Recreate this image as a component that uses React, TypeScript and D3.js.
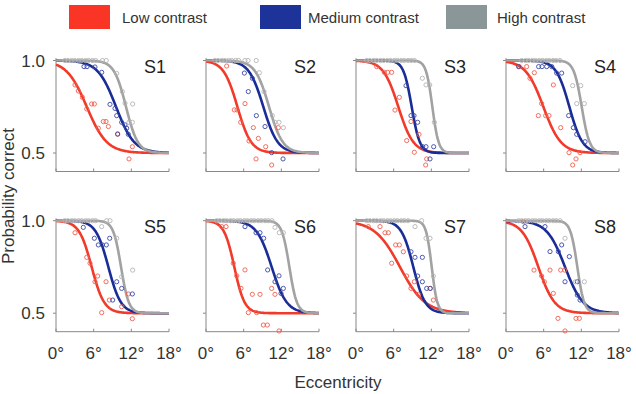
import React from 'react';
import * as d3 from 'd3';

const subjects = ['S1', 'S2', 'S3', 'S4', 'S5', 'S6', 'S7', 'S8'];
const conditions = ['Low contrast', 'Medium contrast', 'High contrast'];
const xTicks = [0, 6, 12, 18];
const yTicks = [0.5, 1.0];

// fitted psychometric functions: threshold (deg, p = 0.75) and spread (deg)
const lowThreshold = [4.9, 5.0, 6.74, 5.95, 5.68, 4.51, 7.0, 5.15];
const lowSpread = [1.6, 1.1, 1.2, 1.4, 1.0, 0.82, 2.0, 1.3];
const medThreshold = [9.56, 9.13, 8.87, 10.09, 8.34, 10.46, 9.13, 9.4];
const medSpread = [1.45, 1.15, 0.65, 1.05, 1.0, 1.2, 0.95, 1.45];
const highThreshold = [11.15, 10.04, 12.16, 12.06, 10.36, 13.28, 12.06, 11.36];
const highSpread = [0.95, 1.1, 0.5, 0.63, 0.62, 0.6, 0.45, 0.55];

// observed data: [eccentricity (deg), proportion correct]
const lowPoints: number[][][] = [
  [[3.03, 0.868], [3.56, 0.835], [4.2, 0.801], [4.89, 0.738], [5.68, 0.765], [6.11, 0.765], [6.74, 0.634], [7.54, 0.67], [7.97, 0.67], [8.34, 0.643], [9.82, 0.601], [12.16, 0.534], [11.63, 0.468]],
  [[3.29, 0.97], [4.51, 0.733], [4.94, 0.733], [6.21, 0.767], [5.52, 0.666], [7.54, 0.637], [6.85, 0.565], [8.34, 0.579], [9.51, 0.534], [7.97, 0.468], [10.46, 0.435], [11.52, 0.637]],
  [[3.29, 0.967], [4.51, 0.936], [5.05, 0.936], [5.68, 0.936], [6.9, 0.801], [6.21, 0.732], [8.76, 0.67], [10.04, 0.601], [8.07, 0.567], [9.29, 0.504], [11.26, 0.468], [11.1, 0.435]],
  [[2.12, 0.967], [3.29, 0.967], [4.51, 0.934], [3.82, 0.904], [7.54, 0.868], [5.68, 0.767], [5.15, 0.702], [6.32, 0.702], [6.85, 0.702], [8.71, 0.637], [10.04, 0.502], [11.79, 0.502], [11.15, 0.468], [10.62, 0.435]],
  [[3.03, 0.935], [4.89, 0.802], [5.42, 0.77], [6.64, 0.701], [6.21, 0.67], [7.97, 0.67], [8.5, 0.571], [10.46, 0.535], [11.52, 0.604], [7.28, 0.503], [12.16, 0.47]],
  [[2.5, 0.968], [3.19, 0.968], [4.35, 0.77], [6.21, 0.734], [4.89, 0.702], [5.58, 0.634], [7.38, 0.602], [8.6, 0.602], [10.46, 0.634], [10.99, 0.602], [6.74, 0.503], [8.07, 0.503], [9.13, 0.436], [9.77, 0.436], [11.63, 0.404]],
  [[1.96, 0.968], [3.82, 0.968], [4.62, 0.935], [5.15, 0.935], [6.32, 0.869], [6.9, 0.869], [7.54, 0.832], [5.68, 0.77], [8.07, 0.701], [9.29, 0.67], [8.76, 0.634], [9.93, 0.602], [11.79, 0.634], [12.32, 0.571]],
  [[2.76, 0.995], [4.46, 0.733], [5.68, 0.701], [6.11, 0.67], [7.01, 0.733], [8.71, 0.733], [9.35, 0.733], [7.54, 0.607], [8.28, 0.472], [11.15, 0.472], [11.68, 0.472], [9.4, 0.404]],
];
const medPoints: number[][][] = [
  [[4.46, 0.967], [4.94, 0.967], [6.21, 0.965], [7.28, 0.936], [8.6, 0.763], [9.4, 0.741], [9.67, 0.702], [10.46, 0.666], [10.99, 0.652], [11.26, 0.634], [9.82, 0.603], [11.52, 0.601]],
  [[6.11, 0.932], [7.38, 0.904], [6.74, 0.832], [8.02, 0.702], [9.4, 0.643], [10.46, 0.502], [12.27, 0.468]],
  [[7.97, 0.864], [8.76, 0.702], [9.24, 0.702], [9.82, 0.666], [10.62, 0.534], [11.15, 0.534], [12.37, 0.534], [11.79, 0.468]],
  [[2.0, 0.967], [5.2, 0.967], [5.74, 0.967], [6.48, 0.967], [7.28, 0.967], [8.07, 0.932], [8.87, 0.932], [9.98, 0.702], [10.73, 0.637], [11.26, 0.601], [12.59, 0.561]],
  [[4.35, 0.964], [6.11, 0.905], [6.74, 0.869], [7.38, 0.869], [8.02, 0.869], [8.55, 0.905], [9.67, 0.67], [10.46, 0.634], [9.03, 0.571], [12.16, 0.604]],
  [[6.21, 0.968], [7.97, 0.935], [8.6, 0.935], [9.19, 0.905], [9.82, 0.734], [11.63, 0.702], [10.99, 0.67], [12.32, 0.634], [11.95, 0.607]],
  [[8.76, 0.832], [9.4, 0.802], [10.57, 0.802], [9.82, 0.701], [10.57, 0.67], [11.26, 0.634], [11.84, 0.634]],
  [[3.03, 0.968], [6.21, 0.968], [8.87, 0.869], [7.01, 0.833], [8.34, 0.833], [10.09, 0.806], [9.4, 0.67], [11.36, 0.67], [11.36, 0.598], [11.79, 0.571]],
];
const highPoints: number[][][] = [
  [[1.4, 1], [1.9, 1], [2.5, 1], [3.0, 1], [3.6, 1], [4.1, 1], [4.7, 1], [5.2, 1], [5.8, 1], [6.3, 1], [7.4, 1], [8.0, 1], [9.67, 0.93], [10.57, 0.832], [10.99, 0.769], [12.21, 0.765], [11.63, 0.666], [12.16, 0.666]],
  [[1.4, 1], [1.9, 1], [2.5, 1], [3.0, 1], [3.6, 1], [4.1, 1], [4.7, 1], [5.2, 1], [6.2, 1], [6.7, 1], [8.0, 1], [8.5, 0.934], [9.24, 0.832], [10.57, 0.702], [10.99, 0.666], [11.63, 0.666], [12.32, 0.637]],
  [[1.7, 1], [2.2, 1], [2.8, 1], [3.3, 1], [3.9, 1], [4.4, 1], [5.0, 1], [5.5, 1], [6.1, 1], [6.6, 1], [7.2, 1], [7.7, 1], [8.3, 1], [8.8, 1], [9.3, 1], [10.57, 0.904], [11.15, 0.868], [11.74, 0.868], [12.48, 0.666]],
  [[2.5, 1], [3.1, 1], [3.6, 1], [4.2, 1], [4.7, 1], [5.3, 1], [5.8, 1], [6.4, 1], [6.9, 1], [7.5, 1], [8.0, 1], [8.6, 1], [10.62, 0.864], [11.9, 0.864], [11.26, 0.767], [12.48, 0.767]],
  [[1.4, 1], [1.9, 1], [2.5, 1], [3.0, 1], [3.6, 1], [4.1, 1], [4.7, 1], [5.2, 1], [5.8, 1], [6.3, 1], [8.07, 1], [8.6, 1], [7.28, 0.968], [9.67, 0.905], [10.46, 0.697], [12.21, 0.733]],
  [[1.7, 1], [2.2, 1], [2.8, 1], [3.3, 1], [3.9, 1], [4.4, 1], [5.0, 1], [5.5, 1], [6.1, 1], [6.6, 1], [7.2, 1], [7.7, 1], [8.3, 1], [8.8, 1], [9.4, 1], [9.9, 1], [10.5, 1], [10.99, 0.964], [11.68, 0.935], [12.32, 0.935]],
  [[1.7, 1], [2.2, 1], [2.8, 1], [3.3, 1], [3.9, 1], [4.4, 1], [5.0, 1], [5.5, 1], [6.1, 1], [6.6, 1], [7.2, 1], [7.7, 1], [8.3, 1], [10.46, 1], [9.4, 0.968], [11.15, 0.905], [11.79, 0.905], [12.32, 0.701]],
  [[2.0, 1], [2.5, 1], [3.1, 1], [3.6, 1], [4.2, 1], [4.7, 1], [5.3, 1], [5.8, 1], [6.4, 1], [6.9, 1], [7.5, 1], [8.0, 1], [8.6, 1], [9.4, 0.905], [11.05, 0.67], [12.48, 0.67]],
];

const lineColors = ['#f23a2a', '#1a2d96', '#a2a2a2'];
const pointColors = ['#f0604f', '#3a48a8', '#b4b4b4'];
const legendColors = ['#fa3525', '#1d3399', '#8a9698'];

const FONT = "'Liberation Sans', Arial, Helvetica, sans-serif";

function psychometric(x: number, t: number, s: number) {
  return 0.5 + 0.5 / (1 + Math.exp((x - t) / s));
}

export default function App() {
  const W = 636;
  const H = 394;
  const panelLeft = 56;
  const panelStep = 150;
  const panelW = 113;
  const rowTop = [60.5, 220.7];
  const rowH = 111;
  const grid = d3.range(0, 18.0001, 0.1);

  const thresholds = [lowThreshold, medThreshold, highThreshold];
  const spreads = [lowSpread, medSpread, highSpread];
  const points = [lowPoints, medPoints, highPoints];

  const legendX = [69, 260, 446];
  const legendTextX = [122, 308, 497];

  return (
    <svg width={W} height={H} style={{ position: 'absolute', left: 0, top: 0, background: '#fff' }} fontFamily={FONT}>
      <rect x={0} y={0} width={W} height={H} fill="#fff" />
      {conditions.map((c, i) => (
        <g key={c}>
          <rect x={legendX[i]} y={5} width={41} height={24} fill={legendColors[i]} />
          <text x={legendTextX[i]} y={23} fontSize={15} fill="#333">{c}</text>
        </g>
      ))}
      <text transform={`translate(14,196) rotate(-90)`} textAnchor="middle" fontSize={17} fill="#333">Probability correct</text>
      <text x={338} y={388} textAnchor="middle" fontSize={17} fill="#333">Eccentricity</text>
      {subjects.map((s, k) => {
        const col = k % 4;
        const row = Math.floor(k / 4);
        const x0 = panelLeft + panelStep * col;
        const x = d3.scaleLinear().domain([0, 18]).range([x0, x0 + panelW]);
        const y = d3.scaleLinear().domain([0.4, 1.0]).range([rowTop[row] + rowH, rowTop[row]]);
        const line = d3.line<number>().x((d) => x(d));
        return (
          <g key={s}>
            {/* axes */}
            <line x1={x0} x2={x0} y1={y(1.013)} y2={y(0.4)} stroke="#888" strokeWidth={1} />
            <line x1={x0} x2={x0 + panelW} y1={y(0.4)} y2={y(0.4)} stroke="#888" strokeWidth={1} />
            {yTicks.map((t) => (
              <g key={t}>
                <line x1={x0 - 3} x2={x0} y1={y(t)} y2={y(t)} stroke="#888" strokeWidth={1} />
                {col === 0 && (
                  <text x={x0 - 11} y={y(t)} dy="0.36em" textAnchor="end" fontSize={17} fill="#333">{t.toFixed(1)}</text>
                )}
              </g>
            ))}
            {xTicks.map((t) => (
              <g key={t}>
                <line x1={x(t)} x2={x(t)} y1={y(0.4)} y2={y(0.4) - 3} stroke="#888" strokeWidth={1} />
                {row === 1 && (
                  <text x={x(t)} y={359} textAnchor="middle" fontSize={17} fill="#333">{`${t}°`}</text>
                )}
              </g>
            ))}
            {/* fitted curves */}
            {[0, 1, 2].map((ci) => (
              <path
                key={ci}
                d={line.y((d) => y(psychometric(d, thresholds[ci][k], spreads[ci][k])))(grid) || ''}
                fill="none"
                stroke={lineColors[ci]}
                strokeWidth={2.6}
              />
            ))}
            {/* data points */}
            {[0, 1, 2].map((ci) => (
              <g key={ci}>
                {points[ci][k].map((p, j) => (
                  <circle key={j} cx={x(p[0])} cy={y(p[1])} r={2.1} fill="none" stroke={pointColors[ci]} strokeWidth={0.9} />
                ))}
              </g>
            ))}
            <text x={x0 + panelW - 3} y={rowTop[row] + 12} textAnchor="end" fontSize={18} fill="#222">{s}</text>
          </g>
        );
      })}
    </svg>
  );
}
